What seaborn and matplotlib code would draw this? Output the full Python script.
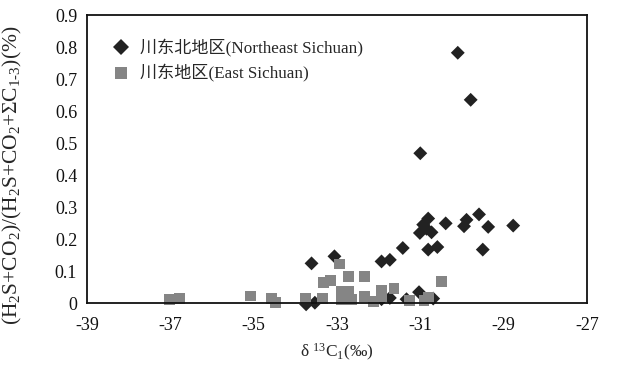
import numpy as np
import pandas as pd
import matplotlib
matplotlib.use("Agg")
import matplotlib.pyplot as plt
import seaborn as sns

# Northeast Sichuan (diamonds)
ne_x = [-30.10, -29.79, -31.00, -29.59, -28.77, -29.37, -29.89, -29.95, -30.39,
        -30.81, -30.93, -31.01, -30.73, -30.85, -29.50, -30.59, -30.81, -31.42,
        -31.73, -31.93, -33.06, -33.61, -33.74, -31.03, -31.33, -30.69, -31.73,
        -31.93, -33.53]
ne_y = [0.782, 0.635, 0.468, 0.277, 0.242, 0.238, 0.260, 0.240, 0.249,
        0.264, 0.245, 0.219, 0.221, 0.232, 0.167, 0.175, 0.167, 0.172,
        0.135, 0.130, 0.146, 0.124, -0.004, 0.034, 0.012, 0.014, 0.016,
        0.012, 0.001]

# East Sichuan (squares)
e_x = [-37.01, -36.78, -35.07, -34.57, -34.47, -33.75, -33.35, -33.33, -32.93,
       -33.15, -32.73, -32.33, -32.73, -32.89, -32.89, -32.65, -32.33, -32.13,
       -31.93, -31.93, -31.63, -30.50, -31.25, -30.91, -30.81]
e_y = [0.010, 0.014, 0.022, 0.014, 0.003, 0.013, 0.013, 0.065, 0.122,
       0.070, 0.083, 0.083, 0.036, 0.036, 0.010, 0.010, 0.020, 0.004,
       0.040, 0.020, 0.046, 0.068, 0.009, 0.009, 0.018]

labels = ["川东北地区(Northeast Sichuan)", "川东地区(East Sichuan)"]
x_ticks = [-39, -37, -35, -33, -31, -29, -27]
y_ticks = [0, 0.1, 0.2, 0.3, 0.4, 0.5, 0.6, 0.7, 0.8, 0.9]
y_ticklabels = ["0", "0.1", "0.2", "0.3", "0.4", "0.5", "0.6", "0.7", "0.8", "0.9"]

df = pd.DataFrame({
    "x": ne_x + e_x,
    "y": ne_y + e_y,
    "region": [labels[0]] * len(ne_x) + [labels[1]] * len(e_x),
})

sns.set_style("white")
plt.rcParams["font.family"] = ["Liberation Serif", "Noto Sans CJK SC", "DejaVu Sans"]
plt.rcParams["mathtext.fontset"] = "custom"
plt.rcParams["mathtext.rm"] = "Liberation Serif"
plt.rcParams["mathtext.it"] = "Liberation Serif:italic"
plt.rcParams["mathtext.default"] = "regular"

fig = plt.figure(figsize=(6.23, 3.66), dpi=100)
ax = fig.add_axes([0.1396, 0.172, 0.8025, 0.787])

sns.scatterplot(data=df, x="x", y="y", hue="region", style="region", size="region",
                markers={labels[0]: "D", labels[1]: "s"},
                palette={labels[0]: "#222222", labels[1]: "#858585"},
                sizes={labels[0]: 50, labels[1]: 62},
                linewidth=0, ax=ax, legend=True, clip_on=False)

ax.set_xlim(-39, -27)
ax.set_ylim(0, 0.9)
ax.set_xticks(x_ticks)
ax.set_xticklabels([str(t) for t in x_ticks])
ax.set_yticks(y_ticks)
ax.set_yticklabels(y_ticklabels)
ax.tick_params(axis="both", direction="in", length=4, width=0.6, colors="#999999",
               labelcolor="#111111", labelsize=13)
ax.tick_params(axis="x", pad=10)
ax.tick_params(axis="y", pad=7)
for sp in ax.spines.values():
    sp.set_color("#111111")
    sp.set_linewidth(1.3)

ax.set_xlabel("δ $^{13}$C$_{1}$(‰)", fontsize=12.5, labelpad=6)
ax.set_ylabel("(H$_2$S+CO$_2$)/(H$_2$S+CO$_2$+ΣC$_{1\\text{-}3}$)(%)", fontsize=15.5)
ax.yaxis.set_label_coords(-0.125, 0.445)

leg = ax.legend(loc="upper left", bbox_to_anchor=(0.02, 0.94), frameon=False,
                fontsize=12.3, handletextpad=0.1, labelspacing=0.45, markerscale=1.1,
                borderaxespad=0)

fig.savefig("out.png", dpi=100)
